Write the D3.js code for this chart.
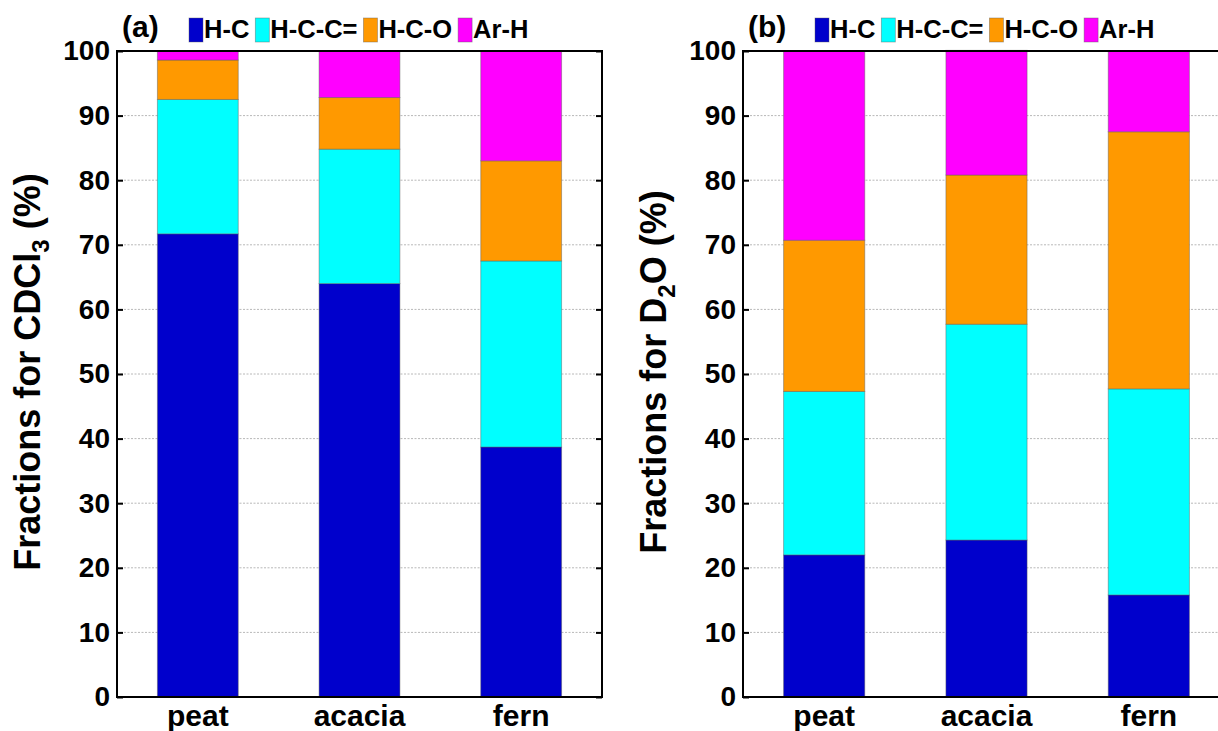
<!DOCTYPE html>
<html>
<head>
<meta charset="utf-8">
<script src="https://cdn.jsdelivr.net/npm/d3@7"></script>
<style>
  html, body { margin: 0; padding: 0; background: #fff; }
  svg { display: block; font-family: "Liberation Sans", Arial, sans-serif; font-weight: bold; }
</style>
</head>
<body>
<svg id="fig" width="1218" height="731"></svg>
<script>
// Samples and proton-type components
const categories = ["peat", "acacia", "fern"];
const components = ["H-C", "H-C-C=", "H-C-O", "Ar-H"];
const componentColors = ["#0000cc", "#00ffff", "#ff9900", "#ff00ff"];
const yTicks = [0, 10, 20, 30, 40, 50, 60, 70, 80, 90, 100];

// Fractions (%) in CDCl3 extracts
const cdcl3HC  = [71.7, 64.0, 38.7];
const cdcl3HCC = [20.8, 20.8, 28.8];
const cdcl3HCO = [6.1, 8.0, 15.5];
const cdcl3ArH = [1.4, 7.2, 17.0];

// Fractions (%) in D2O extracts
const d2oHC  = [22.0, 24.3, 15.8];
const d2oHCC = [25.3, 33.4, 31.9];
const d2oHCO = [23.4, 23.1, 39.8];
const d2oArH = [29.3, 19.3, 12.5];

function rows(series) {
  return categories.map((c, i) => {
    const r = { sample: c };
    components.forEach((k, j) => { r[k] = series[j][i]; });
    return r;
  });
}

const svg = d3.select("#fig");

function panel(opts) {
  const { left, right, top, bottom, data, tag, titleMain, titleSub, titleEnd } = opts;
  const g = svg.append("g");

  const x = d3.scaleBand().domain(categories).range([left, right])
    .paddingInner(0.5).paddingOuter(0.25);
  const y = d3.scaleLinear().domain([0, 100]).range([bottom, top]);

  // dotted grid
  g.append("g").selectAll("line")
    .data(yTicks.filter(t => t > 0 && t < 100))
    .join("line")
    .attr("x1", left).attr("x2", right)
    .attr("y1", d => y(d)).attr("y2", d => y(d))
    .attr("stroke", "#b8b8b8").attr("stroke-width", 1)
    .attr("stroke-dasharray", "2,1.5");

  // stacked bars
  const stack = d3.stack().keys(components)(data);
  g.append("g").selectAll("g")
    .data(stack)
    .join("g")
    .attr("fill", (d, i) => componentColors[i])
    .selectAll("rect")
    .data(d => d)
    .join("rect")
    .attr("x", d => x(d.data.sample))
    .attr("width", x.bandwidth())
    .attr("y", d => y(d[1]))
    .attr("height", d => y(d[0]) - y(d[1]))
    .attr("stroke", "rgba(90,90,90,0.45)")
    .attr("stroke-width", 1);

  // axes
  const yl = g.append("g").attr("transform", `translate(${left},0)`)
    .call(d3.axisLeft(y).tickValues(yTicks).tickSize(-6).tickPadding(7));
  yl.select(".domain").remove();
  yl.selectAll("line").attr("stroke", "#000").attr("stroke-width", 2);
  yl.selectAll("text").attr("font-size", 28).attr("font-weight", "bold")
    .attr("font-family", "Liberation Sans, Arial, sans-serif").attr("fill", "#000");

  const yr = g.append("g").attr("transform", `translate(${right},0)`)
    .call(d3.axisRight(y).tickValues(yTicks).tickSize(-6).tickFormat(""));
  yr.select(".domain").remove();
  yr.selectAll("line").attr("stroke", "#000").attr("stroke-width", 2);

  const xb = g.append("g").attr("transform", `translate(0,${bottom})`)
    .call(d3.axisBottom(x).tickSize(0).tickPadding(8));
  xb.select(".domain").remove();
  xb.selectAll("text").attr("font-size", 30).attr("font-weight", "bold")
    .attr("font-family", "Liberation Sans, Arial, sans-serif").attr("fill", "#000");

  // frame
  g.append("rect").attr("x", left).attr("y", top)
    .attr("width", right - left).attr("height", bottom - top)
    .attr("fill", "none").attr("stroke", "#000").attr("stroke-width", 2);

  // y-axis title with subscript
  const tx = left - 77, ty = (top + bottom) / 2 - 2;
  const t = g.append("text")
    .attr("transform", `translate(${tx},${ty}) rotate(-90)`)
    .attr("text-anchor", "middle")
    .attr("font-size", 36).attr("fill", "#000");
  t.append("tspan").text(titleMain);
  t.append("tspan").attr("font-size", 24).attr("dy", 9).text(titleSub);
  t.append("tspan").attr("dy", -9).text(titleEnd);

  // panel tag and legend
  const ly = 38;
  g.append("text").attr("x", left + 5).attr("y", ly - 1)
    .attr("font-size", 30).attr("fill", "#000").text(tag);

  const legend = g.append("g");
  let cx = left + 72;
  components.forEach((k, i) => {
    legend.append("rect").attr("x", cx).attr("y", 18).attr("width", 14).attr("height", 24)
      .attr("fill", componentColors[i]).attr("stroke", "rgba(90,90,90,0.5)").attr("stroke-width", 0.8);
    const lt = legend.append("text").attr("x", cx + 15).attr("y", ly)
      .attr("font-size", 25.5).attr("fill", "#000").text(k);
    cx += 15 + lt.node().getComputedTextLength() + 6;
  });
}

panel({
  left: 117, right: 602, top: 51, bottom: 697,
  data: rows([cdcl3HC, cdcl3HCC, cdcl3HCO, cdcl3ArH]),
  tag: "(a)", titleMain: "Fractions for CDCl", titleSub: "3", titleEnd: " (%)"
});

panel({
  left: 743, right: 1230, top: 51, bottom: 697,
  data: rows([d2oHC, d2oHCC, d2oHCO, d2oArH]),
  tag: "(b)", titleMain: "Fractions for D", titleSub: "2", titleEnd: "O (%)"
});
</script>
</body>
</html>
